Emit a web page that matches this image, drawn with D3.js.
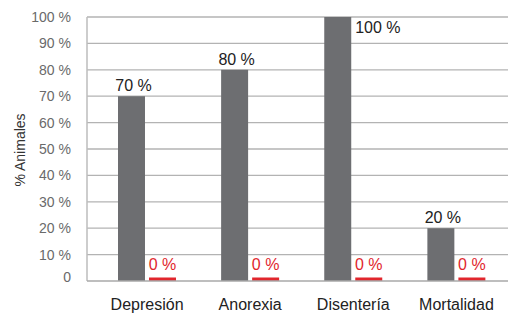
<!DOCTYPE html>
<html>
<head>
<meta charset="utf-8">
<script src="https://cdn.jsdelivr.net/npm/d3@7"></script>
<style>
  html, body { margin: 0; padding: 0; background: #fff; }
  svg { display: block; font-family: "Liberation Sans", Arial, Helvetica, sans-serif; }
</style>
</head>
<body>
<svg id="chart" width="508" height="314"></svg>
<script>
// categories and the two series (gray = affected, red = control)
const categories = ["Depresión", "Anorexia", "Disentería", "Mortalidad"];
const grayValues = [70, 80, 100, 20];
const redValues = [0, 0, 0, 0];
const yTicks = [0, 10, 20, 30, 40, 50, 60, 70, 80, 90, 100];

const W = 508, H = 314;
const GRAY = "#6d6e71", RED = "#e1262d";
const plotLeft = 87, plotRight = 508, plotTop = 17, plotBottom = 281;

const svg = d3.select("#chart");

const y = d3.scaleLinear().domain([0, 100]).range([plotBottom, plotTop]);
const x = d3.scaleBand().domain(categories).range([95.5, 508]);
const xs = d3.scaleBand().domain(["g", "r"]).range([22.5, 80.5]).paddingInner(0.13);

// gridlines
svg.append("g")
  .selectAll("line")
  .data(yTicks.filter((d) => d > 0))
  .join("line")
  .attr("x1", plotLeft).attr("x2", plotRight)
  .attr("y1", (d) => y(d)).attr("y2", (d) => y(d))
  .attr("stroke", "#b3b3b3").attr("stroke-width", 1.3);

// y tick labels
svg.append("g")
  .selectAll("text")
  .data(yTicks)
  .join("text")
  .attr("x", 71)
  .attr("y", (d) => y(d) + (d === 0 ? -4 : 0))
  .attr("dy", "0.35em")
  .attr("text-anchor", "end")
  .attr("font-size", 14)
  .attr("fill", "#6a6a6a")
  .text((d) => (d === 0 ? "0" : d + " %"));

// axis title
svg.append("text")
  .attr("transform", "translate(25,150) rotate(-90)")
  .attr("text-anchor", "middle")
  .attr("font-size", 14)
  .attr("fill", "#333")
  .text("% Animales");

// bars
const g = svg.append("g");
g.selectAll("rect.gray")
  .data(categories)
  .join("rect")
  .attr("class", "gray")
  .attr("x", (d) => x(d) + xs("g"))
  .attr("width", xs.bandwidth())
  .attr("y", (d, i) => y(grayValues[i]))
  .attr("height", (d, i) => plotBottom - y(grayValues[i]))
  .attr("fill", GRAY);

// zero values get a thin stub so they remain visible
g.selectAll("rect.red")
  .data(categories)
  .join("rect")
  .attr("class", "red")
  .attr("x", (d) => x(d) + xs("r"))
  .attr("width", xs.bandwidth())
  .attr("y", (d, i) => Math.min(y(redValues[i]), plotBottom - 3.5))
  .attr("height", (d, i) => Math.max(plotBottom - y(redValues[i]), 3.5))
  .attr("fill", RED);

// axes lines
svg.append("line")
  .attr("x1", plotLeft).attr("x2", plotLeft)
  .attr("y1", plotTop).attr("y2", plotBottom)
  .attr("stroke", "#bdbdbd").attr("stroke-width", 1.5);
svg.append("line")
  .attr("x1", plotLeft).attr("x2", plotRight)
  .attr("y1", plotBottom).attr("y2", plotBottom)
  .attr("stroke", "#a8a8a8").attr("stroke-width", 1.3);

// value labels
g.selectAll("text.gv")
  .data(categories)
  .join("text")
  .attr("class", "gv")
  .attr("font-size", 16)
  .attr("fill", "#222")
  .each(function (d, i) {
    const v = grayValues[i];
    const bx = x(d) + xs("g");
    const t = d3.select(this).text(v + " %");
    if (v >= 100) {
      t.attr("x", bx + xs.bandwidth() + 4).attr("y", y(v) + 16).attr("text-anchor", "start");
    } else {
      t.attr("x", bx + xs.bandwidth() / 2 + 2).attr("y", y(v) - 5).attr("text-anchor", "middle");
    }
  });

g.selectAll("text.rv")
  .data(categories)
  .join("text")
  .attr("class", "rv")
  .attr("font-size", 16)
  .attr("fill", RED)
  .attr("text-anchor", "middle")
  .attr("x", (d) => x(d) + xs("r") + xs.bandwidth() / 2)
  .attr("y", (d, i) => Math.min(y(redValues[i]), plotBottom - 3.5) - 7.5)
  .text((d, i) => redValues[i] + " %");

// category labels
svg.append("g")
  .selectAll("text")
  .data(categories)
  .join("text")
  .attr("x", (d) => x(d) + x.bandwidth() / 2)
  .attr("y", 310)
  .attr("text-anchor", "middle")
  .attr("font-size", 16)
  .attr("fill", "#222")
  .text((d) => d);
</script>
</body>
</html>
